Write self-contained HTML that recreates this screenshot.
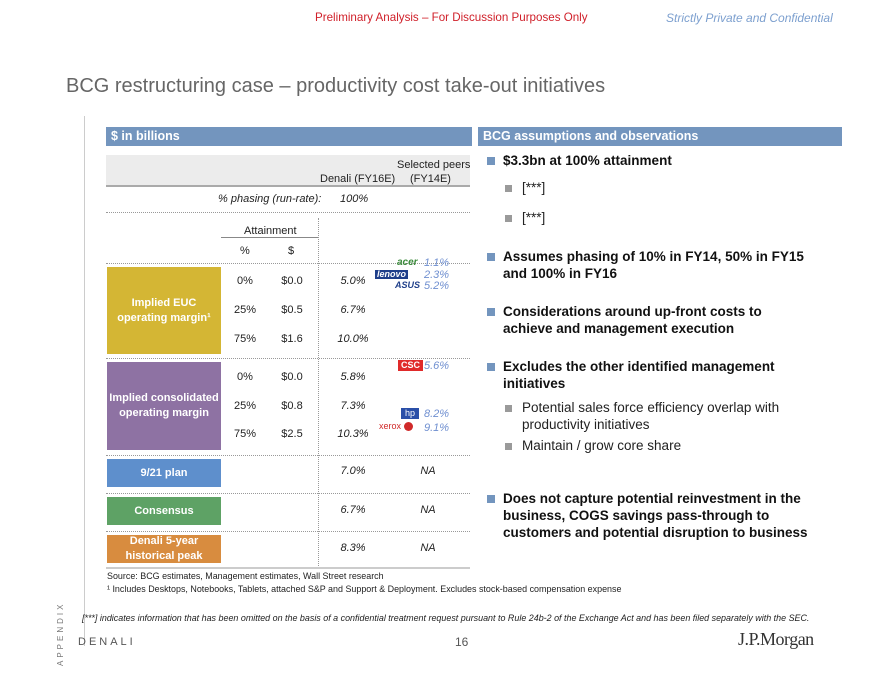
<!DOCTYPE html>
<html><head><meta charset="utf-8"><style>
body{margin:0;width:880px;height:680px;background:#fff;position:relative;overflow:hidden;font-family:"Liberation Sans",Arial,sans-serif;color:#222}
.t{position:absolute;white-space:nowrap;line-height:1}
.c{transform:translateX(-50%)}
.i{font-style:italic}
.hb{position:absolute;background:#7395BE;color:#fff;font-weight:bold;font-size:12.5px;line-height:19px;padding-left:5px;box-sizing:border-box}
.dot{position:absolute;left:106px;width:364px;border-top:1px dotted #999}
.box{position:absolute;left:107px;width:114px;color:#fff;font-weight:bold;font-size:11px;display:flex;align-items:center;justify-content:center;text-align:center;line-height:15px}
.f{font-size:11px}
.p{color:#6f8fd0;font-style:italic;font-size:11px}
.b{position:absolute;width:8px;height:8px;background:#7395BE}
.s{position:absolute;width:7px;height:7px;background:#9a9a9a}
.bt{position:absolute;font-weight:bold;font-size:13.5px;line-height:17px;color:#111}
.st{position:absolute;font-size:13.5px;line-height:17px;color:#222}
.sq{transform:scaleX(0.94);transform-origin:0 0}
</style></head><body>
<div class="t" style="left:315px;top:12px;font-size:11.6px;color:#d0202a">Preliminary Analysis – For Discussion Purposes Only</div>
<div class="t i" style="left:666px;top:12px;font-size:12px;color:#7da0cf">Strictly Private and Confidential</div>
<div class="t" style="left:66px;top:76px;font-size:20px;color:#666">BCG restructuring case – productivity cost take-out initiatives</div>
<div style="position:absolute;left:84px;top:116px;width:1px;height:530px;background:#ccc"></div>

<div class="hb" style="left:106px;top:127px;width:366px;height:19px">$ in billions</div>
<div class="hb" style="left:478px;top:127px;width:364px;height:19px">BCG assumptions and observations</div>

<div style="position:absolute;left:106px;top:155px;width:364px;height:30px;background:#ececec;border-bottom:2px solid #aaa"></div>
<div class="t f" style="left:397px;top:160px">Selected peers</div>
<div class="t f" style="left:320px;top:174px">Denali (FY16E)</div>
<div class="t f" style="left:410px;top:174px">(FY14E)</div>
<div class="t f i" style="left:218px;top:194px">% phasing (run-rate):</div>
<div class="t f i" style="left:340px;top:194px">100%</div>
<div class="dot" style="top:212px"></div>
<div style="position:absolute;left:318px;top:218px;height:348px;border-left:1px dotted #999"></div>
<div class="t f" style="left:244px;top:226px">Attainment</div>
<div style="position:absolute;left:221px;top:237px;width:97px;height:1px;background:#888"></div>
<div class="t f" style="left:240px;top:246px">%</div>
<div class="t f" style="left:288px;top:246px">$</div>
<div class="dot" style="top:263px"></div>

<div class="box" style="top:267px;height:87px;background:#D4B634">Implied EUC<br>operating margin¹</div>
<div class="t f c" style="left:245px;top:276px">0%</div><div class="t f c" style="left:292px;top:276px">$0.0</div><div class="t f i c" style="left:353px;top:276px">5.0%</div>
<div class="t f c" style="left:245px;top:305px">25%</div><div class="t f c" style="left:292px;top:305px">$0.5</div><div class="t f i c" style="left:353px;top:305px">6.7%</div>
<div class="t f c" style="left:245px;top:334px">75%</div><div class="t f c" style="left:292px;top:334px">$1.6</div><div class="t f i c" style="left:353px;top:334px">10.0%</div>
<div class="t i" style="left:397px;top:258px;font-size:10px;font-weight:bold;color:#3a8a3a">acer</div>
<div class="t" style="left:375px;top:270px;font-size:9px;font-weight:bold;font-style:italic;color:#fff;background:#1f3f8a;padding:0 2px">lenovo</div>
<div class="t i" style="left:395px;top:281px;font-size:9px;font-weight:bold;color:#1f3f8a">ASUS</div>
<div class="t p" style="left:424px;top:258px">1.1%</div>
<div class="t p" style="left:424px;top:270px">2.3%</div>
<div class="t p" style="left:424px;top:281px">5.2%</div>
<div class="dot" style="top:358px"></div>

<div class="box" style="top:362px;height:88px;background:#8E72A3">Implied consolidated<br>operating margin</div>
<div class="t f c" style="left:245px;top:372px">0%</div><div class="t f c" style="left:292px;top:372px">$0.0</div><div class="t f i c" style="left:353px;top:372px">5.8%</div>
<div class="t f c" style="left:245px;top:401px">25%</div><div class="t f c" style="left:292px;top:401px">$0.8</div><div class="t f i c" style="left:353px;top:401px">7.3%</div>
<div class="t f c" style="left:245px;top:429px">75%</div><div class="t f c" style="left:292px;top:429px">$2.5</div><div class="t f i c" style="left:353px;top:429px">10.3%</div>
<div class="t" style="left:398px;top:360px;font-size:9px;font-weight:bold;color:#fff;background:#e02a2a;padding:1px 3px">CSC</div>
<div class="t p" style="left:424px;top:361px">5.6%</div>
<div class="t" style="left:401px;top:408px;font-size:9px;color:#fff;background:#2a4fa8;padding:1px 4px">hp</div>
<div class="t" style="left:379px;top:422px;font-size:9px;color:#d02a2a">xerox <span style="display:inline-block;width:9px;height:9px;border-radius:50%;background:#d02a2a;vertical-align:middle"></span></div>
<div class="t p" style="left:424px;top:409px">8.2%</div>
<div class="t p" style="left:424px;top:423px">9.1%</div>
<div class="dot" style="top:455px"></div>

<div class="box" style="top:459px;height:28px;background:#5E8FCC">9/21 plan</div>
<div class="t f i c" style="left:353px;top:466px">7.0%</div><div class="t f i c" style="left:428px;top:466px">NA</div>
<div class="dot" style="top:493px"></div>
<div class="box" style="top:497px;height:28px;background:#5EA265">Consensus</div>
<div class="t f i c" style="left:353px;top:505px">6.7%</div><div class="t f i c" style="left:428px;top:505px">NA</div>
<div class="dot" style="top:531px"></div>
<div class="box" style="top:535px;height:28px;background:#D88C3F">Denali 5-year<br>historical peak</div>
<div class="t f i c" style="left:353px;top:543px">8.3%</div><div class="t f i c" style="left:428px;top:543px">NA</div>
<div style="position:absolute;left:106px;top:567px;width:364px;height:2px;background:#ccc"></div>

<div class="t sq" style="left:107px;top:572px;font-size:9.5px">Source: BCG estimates, Management estimates, Wall Street research</div>
<div class="t sq" style="left:107px;top:585px;font-size:9.5px">¹ Includes Desktops, Notebooks, Tablets, attached S&amp;P and Support &amp; Deployment. Excludes stock-based compensation expense</div>
<div class="t i sq" style="left:82px;top:614px;font-size:9.5px">[***] indicates information that has been omitted on the basis of a confidential treatment request pursuant to Rule 24b-2 of the Exchange Act and has been filed separately with the SEC.</div>
<div class="t" style="left:78px;top:637px;font-size:11px;letter-spacing:3px;color:#555">DENALI</div>
<div class="t" style="left:455px;top:636px;font-size:12px;color:#555">16</div>
<div class="t" style="left:738px;top:630px;font-size:18px;font-family:'Liberation Serif',serif;color:#333;letter-spacing:-0.5px">J.P.Morgan</div>
<div class="t" style="left:57px;top:666px;font-size:8px;letter-spacing:3px;color:#777;transform:rotate(-90deg);transform-origin:0 0">APPENDIX</div>

<div class="b" style="left:487px;top:157px"></div>
<div class="bt" style="left:503px;top:152px">$3.3bn at 100% attainment</div>
<div class="s" style="left:505px;top:185px"></div><div class="st" style="left:522px;top:179px">[***]</div>
<div class="s" style="left:505px;top:215px"></div><div class="st" style="left:522px;top:209px">[***]</div>
<div class="b" style="left:487px;top:253px"></div>
<div class="bt" style="left:503px;top:248px">Assumes phasing of 10% in FY14, 50% in FY15<br>and 100% in FY16</div>
<div class="b" style="left:487px;top:308px"></div>
<div class="bt" style="left:503px;top:303px">Considerations around up-front costs to<br>achieve and management execution</div>
<div class="b" style="left:487px;top:363px"></div>
<div class="bt" style="left:503px;top:358px">Excludes the other identified management<br>initiatives</div>
<div class="s" style="left:505px;top:405px"></div><div class="st" style="left:522px;top:399px">Potential sales force efficiency overlap with<br>productivity initiatives</div>
<div class="s" style="left:505px;top:443px"></div><div class="st" style="left:522px;top:437px">Maintain / grow core share</div>
<div class="b" style="left:487px;top:495px"></div>
<div class="bt" style="left:503px;top:490px">Does not capture potential reinvestment in the<br>business, COGS savings pass-through to<br>customers and potential disruption to business</div>
</body></html>
